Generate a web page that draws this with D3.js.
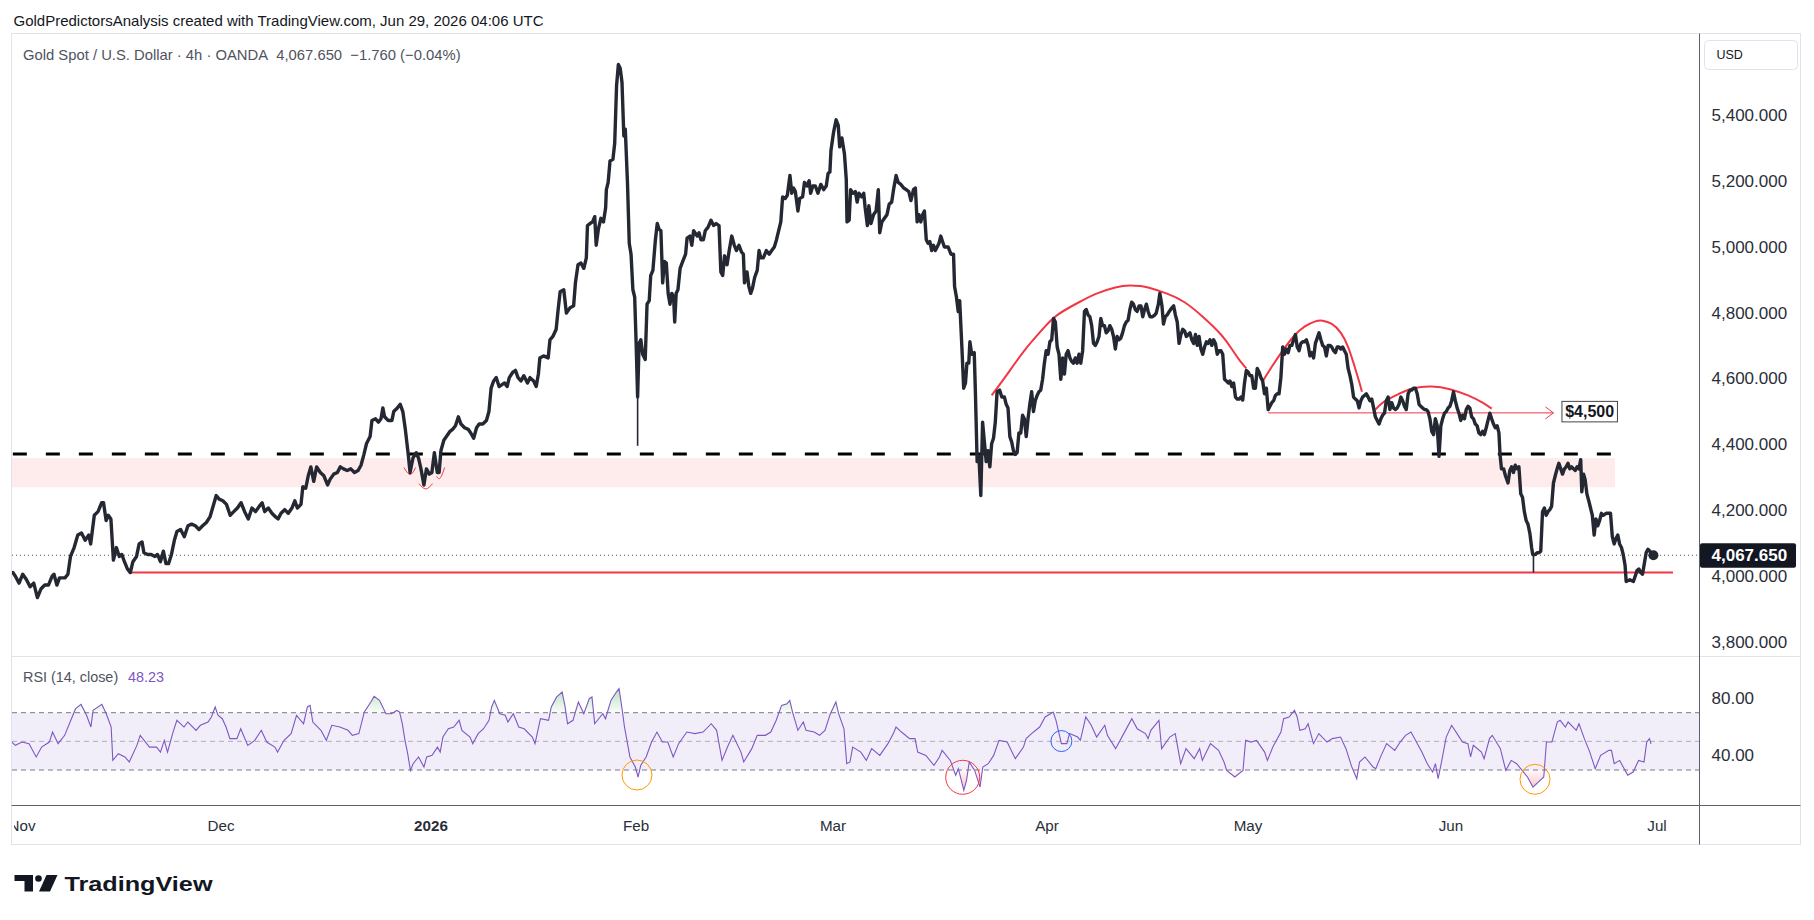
<!DOCTYPE html>
<html><head><meta charset="utf-8">
<script src="https://cdn.jsdelivr.net/npm/d3@7"></script>
<style>
html,body{margin:0;padding:0;background:#fff;}
svg{display:block;}
text{font-family:"Liberation Sans",Arial,sans-serif;}
</style></head><body>
<svg id="c" width="1814" height="920"></svg>
<script>
// ---------------- DATA ----------------
// time values are days since 2025-11-01 (UTC); prices in USD
const priceSeries = [
[-1.38,4015],[-1.00,4004],[-0.44,3983],[0.11,4010],[0.66,3994],[1.22,3972],[1.77,3983],[2.32,3939],[2.88,3966],[3.43,3977],[3.99,3977],[4.54,4004],[4.82,4010],[5.26,3977],[5.65,3999],[6.48,3999],[6.92,4010],[7.31,4064],[7.86,4091],[8.41,4129],[8.97,4135],[9.52,4113],[10.07,4129],[10.35,4102],[10.90,4189],[11.46,4200],[12.01,4227],[12.29,4227],[12.68,4173],[13.01,4189],[13.40,4178],[13.78,4053],[14.23,4091],[14.67,4064],[15.06,4070],[15.44,4048],[15.89,4026],[16.33,4015],[16.72,4048],[17.27,4064],[17.66,4102],[18.10,4108],[18.38,4075],[18.93,4070],[19.48,4070],[20.04,4064],[20.43,4070],[20.87,4048],[21.31,4080],[21.70,4042],[22.09,4042],[22.53,4070],[22.97,4113],[23.36,4140],[23.91,4146],[24.47,4124],[25.02,4157],[25.57,4162],[26.13,4157],[26.68,4146],[27.23,4157],[27.79,4167],[28.34,4184],[28.89,4222],[29.28,4249],[29.72,4238],
[30.27,4233],[30.81,4222],[31.35,4189],[31.88,4200],[32.42,4211],[32.96,4227],[33.49,4200],[34.03,4178],[34.57,4211],[35.10,4200],[35.64,4216],[36.07,4227],[36.45,4200],[36.98,4211],[37.52,4195],[38.06,4184],[38.43,4178],[38.86,4195],[39.40,4206],[39.93,4195],[40.47,4211],[40.90,4233],[41.27,4211],[41.81,4222],[42.08,4276],[42.51,4271],[42.88,4309],[43.26,4336],[43.69,4292],[44.12,4336],[44.66,4319],[45.19,4309],[45.73,4281],[46.10,4298],[46.64,4314],[47.18,4319],[47.61,4336],[48.09,4330],[48.63,4325],[49.16,4330],[49.70,4319],[50.24,4325],[50.67,4341],[51.10,4374],[51.47,4406],[52.01,4428],[52.28,4477],[52.81,4482],[53.24,4472],[53.62,4482],[53.89,4515],[54.15,4488],[54.69,4477],[55.23,4477],[55.50,4504],[56.03,4515],[56.46,4526],[56.84,4504],[57.21,4450],[57.64,4374],[57.91,4319],[58.34,4363],[58.82,4379],[59.15,4363],[59.52,4330],[59.95,4281],[60.33,4330],[60.75,4314],
[61.13,4319],[61.51,4379],[61.95,4319],[62.23,4319],[62.50,4385],[62.94,4417],[63.33,4428],[63.88,4444],[64.26,4450],[64.70,4461],[65.14,4488],[65.53,4466],[66.08,4455],[66.63,4450],[67.01,4439],[67.45,4423],[67.89,4455],[68.28,4466],[68.83,4466],[69.38,4477],[69.76,4504],[70.09,4575],[70.47,4597],[70.86,4607],[71.30,4580],[71.74,4586],[72.12,4591],[72.51,4580],[72.84,4607],[73.39,4624],[73.77,4629],[74.16,4607],[74.60,4597],[75.04,4613],[75.59,4591],[75.97,4607],[76.52,4597],[76.91,4580],[77.24,4618],[77.46,4667],[78.01,4673],[78.72,4667],[78.99,4722],[79.43,4732],[79.93,4754],[80.20,4809],[80.53,4868],[81.08,4874],[81.47,4803],[82.02,4819],[82.57,4825],[82.84,4895],[83.23,4950],[83.67,4955],
[84.11,4939],[84.49,4971],[84.66,5069],[85.04,5075],[85.43,5080],[85.76,5096],[85.98,5009],[86.31,5058],[86.69,5091],[87.08,5080],[87.41,5123],[87.52,5178],[87.79,5200],[88.07,5265],[88.51,5270],[88.78,5319],[89.06,5493],[89.33,5558],[89.61,5547],[89.88,5504],[90.16,5341],[90.38,5362],[90.71,5200],[90.98,5015],[91.25,4982],[91.53,4874],[91.80,4852],
[92.02,4711],[92.23,4548],[92.44,4711],[92.69,4722],[92.95,4678],[93.31,4662],[93.57,4830],[93.88,4841],[94.09,4917],[94.40,4933],[94.76,5026],[95.02,5075],[95.28,5058],[95.54,5053],[95.79,4895],[96.05,4960],[96.31,4955],[96.57,4863],[96.83,4830],[97.09,4863],[97.34,4852],[97.50,4776],[97.71,4863],[97.96,4874],[98.27,4939],[98.64,4960],[99.05,4982],[99.26,5031],[99.67,5037],[99.93,5009],[100.19,5053],[100.70,5037],[100.96,5047],[101.22,5026],[101.58,5026],[101.84,5053],[102.25,5064],[102.66,5085],[103.03,5069],[103.39,5075],[103.80,5069],[104.06,4928],[104.32,4917],[104.58,4977],[104.94,4950],[105.25,4993],[105.61,5037],[105.97,5009],[106.28,4993],[106.64,5009],[107.00,4988],[107.26,4982],[107.42,4895],[107.78,4928],[108.04,4884],[108.30,4863],[108.56,4879],[108.87,4912],[109.23,4933],[109.49,4993],[109.74,4971],[110.10,4971],[110.52,4993],[110.93,4982],[111.29,4993],[111.66,5004],[111.97,5026],[112.33,5058],[112.58,5080],[112.84,5156],[113.20,5151],[113.51,5161],[113.88,5221],[114.14,5167],[114.39,5183],[114.65,5172],[115.01,5113],[115.27,5151],[115.68,5156],[115.94,5200],[116.30,5189],[116.61,5205],[116.82,5167],[117.13,5189],[117.49,5189],[117.86,5167],[118.27,5194],[118.68,5178],[119.04,5189],[119.30,5227],[119.56,5232],[119.71,5297],
[120.08,5352],[120.45,5390],[120.76,5373],[120.97,5308],[121.29,5335],[121.66,5286],[121.92,5210],[122.03,5080],[122.34,5085],[122.55,5178],[122.87,5167],[123.24,5172],[123.50,5140],[123.76,5167],[124.13,5156],[124.45,5167],[124.66,5123],[124.98,5069],[125.19,5129],[125.50,5075],[125.87,5102],[126.24,5113],[126.56,5178],[126.77,5047],[127.08,5080],[127.45,5091],[127.82,5102],[128.14,5134],[128.50,5140],[128.77,5178],[129.14,5221],[129.45,5200],[129.82,5194],[130.24,5183],[130.61,5178],[130.98,5172],[131.29,5145],[131.66,5178],[131.93,5183],[132.19,5080],[132.45,5102],[132.72,5080],[132.98,5102],[133.24,5113],[133.51,5026],[133.77,5015],[134.03,5020],[134.30,4993],[134.56,5009],[134.82,4993],[135.09,5004],[135.35,5015],[135.61,5037],[135.88,5020],[136.14,5004],[136.67,5004],[137.09,4982],[137.46,4982],[137.61,4884],[137.88,4852],[138.14,4808],[138.35,4841],[138.67,4700],[138.93,4575],[139.19,4591],[139.40,4651],[139.67,4651],[139.83,4716],[140.09,4678],[140.46,4683],[140.62,4569],[140.88,4352],[141.14,4368],[141.41,4249],[141.67,4472],[141.93,4412],[142.19,4352],[142.46,4385],[142.72,4336],[142.98,4406],[143.25,4423],[143.51,4472],[143.77,4564],[144.14,4569],[144.46,4548],[144.83,4548],[145.09,4526],[145.35,4515],[145.62,4428],[145.88,4412],[146.14,4385],[146.41,4374],[146.67,4379],[146.93,4439],[147.20,4439],[147.46,4493],[147.72,4482],[147.99,4428],[148.25,4482],[148.51,4526],[148.78,4564],[149.04,4504],[149.30,4537],[149.57,4553],[149.83,4564],[150.09,4569],[150.36,4602],[150.62,4651],[150.88,4689],
[151.16,4678],[151.43,4716],[151.70,4722],[151.97,4787],[152.25,4776],[152.52,4700],[152.79,4678],[153.06,4602],[153.33,4667],[153.60,4618],[153.87,4678],[154.14,4689],[154.42,4667],[154.69,4656],[154.96,4651],[155.23,4667],[155.50,4651],[155.77,4678],[156.04,4651],[156.32,4689],[156.59,4808],[156.86,4814],[157.13,4797],[157.40,4792],[157.67,4765],[157.94,4711],[158.21,4705],[158.49,4716],[158.76,4732],[159.03,4787],[159.30,4765],[159.57,4765],[159.84,4743],[160.11,4749],[160.38,4765],[160.66,4754],[160.93,4732],[161.20,4694],[161.47,4732],[161.74,4722],[162.01,4727],[162.28,4743],[162.56,4765],[162.83,4776],[163.10,4781],[163.37,4814],[163.64,4836],[163.91,4830],[164.18,4814],[164.45,4808],
[164.75,4825],[165.02,4825],[165.29,4792],[165.56,4814],[165.83,4830],[166.10,4808],[166.37,4792],[166.75,4792],[167.08,4797],[167.30,4803],[167.62,4830],[167.84,4863],[168.16,4825],[168.38,4770],[168.65,4792],[168.92,4797],[169.25,4808],[169.63,4819],[169.90,4825],[170.17,4797],[170.44,4776],[170.71,4711],[170.99,4738],[171.26,4754],[171.53,4749],[171.80,4732],[172.07,4738],[172.34,4743],[172.61,4722],[172.89,4711],[173.16,4738],[173.43,4705],[173.70,4732],[173.97,4694],[174.24,4678],[174.51,4700],[174.79,4716],[175.06,4711],[175.33,4722],[175.60,4705],[175.87,4722],[176.14,4711],[176.41,4678],[176.68,4689],[176.96,4689],[177.23,4678],[177.50,4602],[177.77,4597],[178.04,4591],[178.31,4597],[178.58,4580],[178.85,4591],[179.13,4548],[179.40,4542],[179.67,4542],[179.94,4548],[180.21,4539],[180.48,4591],[180.75,4629],
[181.02,4624],[181.30,4613],[181.58,4613],[181.86,4575],[182.13,4575],[182.41,4635],[182.69,4624],[182.97,4607],[183.24,4597],[183.52,4558],[183.80,4575],[184.08,4510],[184.35,4520],[184.63,4531],[184.91,4537],[185.19,4553],[185.46,4558],[185.74,4558],[186.02,4607],[186.30,4700],[186.57,4678],[186.85,4694],[187.13,4683],[187.41,4705],[187.69,4705],[187.96,4722],[188.24,4738],[188.52,4700],[188.80,4689],[189.07,4711],[189.35,4716],[189.63,4716],[189.91,4722],[190.18,4705],[190.46,4673],[190.74,4683],[191.02,4667],[191.29,4711],[191.57,4727],[191.85,4743],[192.13,4722],[192.40,4705],[192.68,4700],[192.96,4673],[193.24,4705],[193.51,4705],[193.79,4700],[194.07,4689],[194.35,4683],[194.62,4700],[194.90,4700],[195.18,4694],[195.46,4700],[195.73,4689],[196.01,4678],[196.29,4635],[196.57,4613],[196.85,4586],[197.12,4548],[197.40,4542],[197.68,4537],[197.96,4515],[198.23,4537],[198.51,4548],[198.79,4553],[199.07,4558],[199.34,4548],[199.62,4537],[199.90,4542],[200.18,4515],[200.45,4488],[200.73,4477],[201.01,4466],[201.29,4482],[201.56,4493],[201.84,4499],[202.12,4537],[202.40,4548],[202.67,4510],[202.95,4531],[203.23,4515],[203.51,4510],[203.78,4515],[204.06,4526],[204.34,4548],[204.62,4537],[204.89,4520],[205.17,4510],[205.45,4558],[205.73,4569],[206.00,4569],[206.28,4575],[206.56,4575],[206.84,4558],[207.12,4526],[207.39,4520],[207.67,4515],[207.95,4510],[208.23,4510],[208.50,4504],[208.78,4482],[209.06,4444],[209.34,4434],[209.61,4482],[209.89,4461],[210.17,4368],[210.45,4461],[210.72,4482],[211.00,4499],[211.28,4504],[211.56,4515],[211.83,4520],
[212.10,4537],[212.36,4564],[212.63,4537],[212.89,4515],[213.16,4499],[213.42,4477],[213.69,4493],[213.95,4482],[214.22,4510],[214.48,4520],[214.74,4515],[215.01,4488],[215.27,4482],[215.54,4466],[215.80,4461],[216.07,4439],[216.33,4434],[216.60,4444],[216.86,4434],[217.13,4455],[217.39,4477],[217.66,4499],[217.92,4482],[218.19,4466],[218.45,4455],[218.72,4461],[218.98,4439],[219.14,4374],[219.35,4330],[219.67,4330],[219.93,4309],[220.30,4287],[220.57,4325],[220.83,4336],[221.10,4319],[221.36,4341],[221.63,4330],[221.89,4336],[222.16,4254],[222.42,4243],[222.68,4200],[222.95,4173],[223.21,4162],[223.48,4135],[223.74,4091],[223.90,4070],[224.27,4070],[224.54,4075],[224.80,4075],[225.07,4080],[225.33,4200],[225.60,4211],[225.86,4189],[226.13,4200],[226.39,4206],[226.65,4216],[226.92,4287],[227.18,4309],[227.45,4330],[227.71,4347],[227.98,4330],[228.24,4314],[228.51,4330],[228.77,4336],[229.04,4347],[229.30,4330],[229.57,4336],[229.83,4330],[230.10,4325],[230.36,4336],[230.63,4330],[230.89,4358],[231.05,4260],[231.31,4314],[231.53,4298],[231.79,4254],[232.06,4233],[232.32,4211],[232.58,4189],[232.85,4129],[233.11,4178],[233.38,4157],[233.64,4173],[233.91,4195],[234.17,4189],[234.60,4195],[235.23,4195],[235.49,4124],[235.76,4102],[236.02,4118],[236.29,4129],[236.55,4102],[236.82,4091],[237.08,4070],[237.35,4037],[237.51,3988],[238.04,3993],[238.56,3988],[238.83,4004],[239.09,4021],[239.36,4026],[239.62,4015],[239.89,4010],[240.15,4042],[240.42,4075],[240.68,4086],[240.95,4080],[241.21,4070],[241.48,4067.65]
];

const rsiSeries = [
[-1.83,50.7],[-1.00,47.2],[0.0,49.5],[1.06,48.4],[2.14,39.1],[2.96,46.0],[4.12,49.5],[4.61,56.5],[5.44,48.4],[6.43,54.2],[7.25,63.5],[8.08,72.8],[8.90,75.8],[9.73,68.2],[10.39,60.0],[10.72,71.6],[12.04,75.8],[12.70,69.3],[13.44,60.0],[13.69,36.7],[14.52,41.4],[15.51,39.1],[16.17,35.6],[17.32,47.2],[17.82,54.2],[19.22,46.0],[20.29,46.0],[20.87,42.5],[21.45,50.7],[21.94,42.5],[22.77,56.5],[23.35,64.7],[24.42,60.0],[25.00,63.5],[26.24,57.7],[26.89,61.2],[28.05,63.5],[28.55,67.0],[29.12,74.0],[29.54,68.2],
[30.19,65.8],[30.75,60.0],[31.31,51.9],[32.35,51.9],[32.91,58.8],[33.95,47.2],[34.99,50.7],[35.95,57.7],[36.75,49.5],[37.95,46.0],[38.35,42.5],[39.31,50.7],[40.35,55.4],[41.15,68.2],[42.19,62.3],[42.75,74.0],[43.15,75.1],[43.55,63.5],[44.75,57.7],[45.55,50.7],[46.35,61.2],[47.55,60.0],[48.75,57.7],[49.39,54.2],[50.35,55.4],[51.16,70.5],[52.12,77.5],[52.60,81.4],[53.40,78.6],[54.35,69.3],[55.16,69.3],[55.96,71.6],[56.36,70.5],[56.76,62.3],[57.16,50.7],[57.56,41.4],[57.96,29.7],[58.36,34.4],[59.16,39.1],[59.96,32.1],[60.36,39.1],
[61.16,40.2],[61.98,46.0],[62.39,42.5],[62.80,53.0],[63.62,58.8],[64.44,60.0],[65.26,64.7],[65.67,57.7],[66.90,53.0],[67.31,48.4],[68.13,55.4],[68.95,58.8],[69.77,64.7],[70.17,74.0],[70.58,78.6],[71.40,69.3],[72.22,68.2],[72.63,63.5],[73.45,69.3],[74.27,60.0],[75.09,58.8],[76.32,53.0],[76.73,48.4],[77.55,65.8],[78.78,64.7],[79.19,74.0],[80.01,81.0],[80.83,84.4],[81.24,75.1],[81.65,62.3],[82.47,64.7],[83.29,77.5],[84.11,69.3],[84.93,79.8],[85.34,81.0],[85.75,62.3],[86.98,69.3],[87.39,65.8],[88.21,78.6],[89.03,84.4],[89.44,86.8],[89.85,74.0],[90.26,60.0],[91.08,39.1],[91.90,32.1],
[92.29,25.1],[92.67,33.2],[93.44,39.1],[94.21,49.5],[94.98,56.5],[95.75,49.5],[96.52,49.5],[97.29,39.1],[98.06,48.4],[99.22,56.5],[100.37,55.4],[101.53,56.5],[102.69,62.3],[103.46,57.7],[104.23,36.7],[105.00,46.0],[105.77,54.2],[106.92,42.5],[107.31,35.6],[108.46,44.9],[109.23,54.2],[110.39,54.2],[111.16,56.5],[111.93,64.7],[112.70,75.1],[113.47,76.3],[113.86,78.6],[114.24,70.5],[115.01,57.7],[115.78,63.5],[116.17,57.7],[117.32,56.5],[118.09,54.2],[118.86,57.7],[119.63,69.3],
[120.42,77.5],[120.81,69.3],[121.59,58.8],[121.99,34.4],[122.46,35.6],[122.85,46.0],[124.03,42.5],[124.82,36.7],[125.60,44.9],[126.78,40.2],[127.96,48.4],[128.74,55.4],[129.13,60.0],[129.92,56.5],[131.10,51.9],[131.88,51.9],[132.27,42.5],[133.45,40.2],[134.63,33.2],[135.42,39.1],[135.81,43.7],[136.99,36.7],[137.77,26.3],[138.16,30.9],[138.95,15.8],[139.34,22.8],[139.73,35.6],[140.52,29.7],[141.30,18.1],[141.70,32.1],[142.48,34.4],[143.27,40.2],[144.05,50.7],[145.23,49.5],[146.41,37.9],[147.59,46.0],[147.98,51.9],[148.76,55.4],[149.94,60.0],[150.73,67.0],
[151.53,69.3],[151.93,70.5],[152.34,64.7],[153.15,48.4],[153.96,48.4],[154.36,55.4],[155.58,53.0],[155.98,50.7],[156.79,67.0],[157.60,61.2],[158.41,53.0],[159.62,61.2],[160.02,54.2],[161.24,44.9],[162.45,55.4],[163.66,65.8],[164.47,58.8],[165.69,55.4],[166.09,51.9],[166.50,57.7],[167.71,64.7],[168.11,44.9],[169.33,53.0],[170.14,55.4],[170.95,34.4],[171.75,44.9],[172.97,37.9],[173.78,44.9],[174.18,36.7],[175.39,48.4],[176.61,43.7],[177.42,35.6],[177.82,29.7],[179.03,25.1],[180.25,29.7],[180.65,50.7],
[181.47,49.5],[182.30,50.7],[183.54,42.5],[183.96,36.7],[184.79,46.0],[186.03,56.5],[186.44,65.8],[187.27,67.0],[188.10,71.6],[188.51,67.0],[188.92,57.7],[189.75,58.8],[190.17,62.3],[191.00,48.4],[191.82,55.4],[193.06,49.5],[193.89,51.9],[195.13,53.0],[195.96,44.9],[196.79,32.9],[197.61,23.9],[198.03,35.6],[198.86,39.1],[200.10,32.1],[200.51,30.9],[201.34,40.2],[202.17,48.4],[203.41,43.7],[204.24,49.5],[205.06,54.2],[205.89,56.5],[206.72,49.5],[207.55,42.5],[208.38,34.4],[209.20,28.6],[209.62,34.4],[210.03,23.9],[210.45,33.2],[211.27,53.0],
[212.09,61.2],[212.88,55.4],[213.67,49.5],[214.46,48.4],[214.85,39.1],[215.25,47.2],[216.43,42.5],[216.82,37.9],[217.61,51.9],[218.01,54.2],[219.19,44.9],[219.98,29.7],[220.77,36.7],[221.56,34.4],[222.35,29.7],[223.14,25.1],[223.93,18.1],[224.72,21.5],[225.51,25.1],[225.90,49.5],[226.69,49.5],[227.48,63.5],[227.88,64.7],[228.66,60.0],[229.06,63.5],[230.24,57.7],[230.64,62.3],[231.42,51.9],[232.21,42.5],[233.00,30.9],[233.79,40.2],[234.98,43.7],[235.37,43.7],[235.77,34.4],[236.56,36.7],[237.74,26.3],[238.53,28.6],[239.32,36.7],[240.11,35.6],[240.50,49.5],[240.90,51.9],[241.13,48.23]
];

const monthTicks  = ["2025-11-01","2025-12-01","2026-01-01","2026-02-01","2026-03-01","2026-04-01","2026-05-01","2026-06-01","2026-07-01"];
const monthLabels = ["Nov","Dec","2026","Feb","Mar","Apr","May","Jun","Jul"];
const priceTicks  = [3800,4000,4200,4400,4600,4800,5000,5200,5400];
const rsiTicks    = [40,80];
const rsiLevels   = [70,50,30];

const lastClose = 4067.650, lastChange = -1.760, lastChangePct = -0.04, lastRsi = 48.23;

// drawings (in data space: day offset / price)
const supportLevel = 4015, supportDays = [16.29, 244.33];
const resistLevel = 4375, resistDays = [-1.38, 235.4];
const zoneLevels = [4274, 4363], zoneDays = [-3, 235.88];
const targetLevel = 4500, targetDays = [184.08, 226.92], targetLabel = "$4,500";
const arcA = [[142.98,4553],[145.09,4613],[147.72,4689],[150.36,4754],[152.52,4797],[155.77,4836],[158.49,4863],[161.20,4881],[163.37,4887],[165.02,4885],[166.10,4881],[168.82,4863],[171.53,4836],[174.24,4792],[176.96,4738],[178.58,4694],[179.67,4662],[180.75,4635]];
const arcB = [[183.24,4596],[184.63,4640],[186.30,4689],[187.96,4732],[189.63,4762],[191.29,4778],[192.40,4780],[193.79,4770],[195.18,4743],[196.29,4700],[197.12,4651],[197.96,4596],[198.40,4564]];
const arcC = [[200.45,4510],[201.84,4535],[204.06,4558],[206.28,4575],[209.06,4580],[211.83,4572],[214.48,4553],[216.60,4531],[217.92,4513]];
const smiles = [
  [[57.0,4334],[57.92,4313],[58.72,4334]],
  [[59.24,4285],[60.22,4269],[61.24,4285]],
  [[61.85,4307],[62.39,4302],[63.06,4334]]
];
const spikes = [[92.23,4548,4400],[224.01,4070,4015]];
const rsiMarks = [[92.14,26.5],[138.79,24.9],[153.15,50.2],[224.23,23.5]];

// ---------------- LAYOUT / STYLE ----------------
const W = 1814, H = 920;
const L = 12, R = 1699.5, frameR = 1800.5;
const pTop = 33.5, pBot = 656.5, rBot = 805.5, fBot = 844.5;
const markStyle = [{c:"#ff9800",r:15},{c:"#f23645",r:17},{c:"#2962ff",r:10.5},{c:"#ff9800",r:15}];
const RED = "#f23645", INK = "#131722", LINE = "#242833";

const BASE = Date.UTC(2025,10,1), DAY = 864e5;
const toDate = t => new Date(BASE + t*DAY);

const x = d3.scaleUtc()
  .domain(monthTicks.map(s => new Date(s + "T00:00:00Z")))
  .range([22,221,431,636,833,1047,1248,1451,1657]);
const yP = d3.scaleLinear().domain([4000,4400]).range([577.5,445.8]);
const yR = d3.scaleLinear().domain([30,70]).range([770,712.7]);

const svg = d3.select("#c");
const defs = svg.append("defs");
defs.append("clipPath").attr("id","cp").append("rect").attr("x",L).attr("y",pTop).attr("width",R-L).attr("height",pBot-pTop);
defs.append("clipPath").attr("id","cr").append("rect").attr("x",L).attr("y",pBot).attr("width",R-L).attr("height",rBot-pBot);
defs.append("clipPath").attr("id","ct").append("rect").attr("x",L+2).attr("y",rBot).attr("width",R-L-2).attr("height",fBot-rBot);

const gOB = defs.append("linearGradient").attr("id","gob").attr("gradientUnits","userSpaceOnUse")
  .attr("x1",0).attr("x2",0).attr("y1",yR(90)).attr("y2",yR(70));
gOB.append("stop").attr("offset","0").attr("stop-color","rgba(76,175,80,0.45)");
gOB.append("stop").attr("offset","1").attr("stop-color","rgba(76,175,80,0.03)");
const gOS = defs.append("linearGradient").attr("id","gos").attr("gradientUnits","userSpaceOnUse")
  .attr("x1",0).attr("x2",0).attr("y1",yR(30)).attr("y2",yR(12));
gOS.append("stop").attr("offset","0").attr("stop-color","rgba(242,54,69,0.03)");
gOS.append("stop").attr("offset","1").attr("stop-color","rgba(242,54,69,0.4)");

// background
svg.append("rect").attr("width",W).attr("height",H).attr("fill","#fff");

// header
svg.append("text").attr("x",13.5).attr("y",20).attr("dominant-baseline","central")
  .attr("font-size",15).attr("fill",INK)
  .text("GoldPredictorsAnalysis created with TradingView.com, Jun 29, 2026 04:06 UTC");

// frame
svg.append("rect").attr("x",11.5).attr("y",pTop).attr("width",frameR-11.5).attr("height",fBot-pTop)
  .attr("fill","none").attr("stroke","#e0e3eb").attr("stroke-width",1);

// ---------- price pane ----------
const gp = svg.append("g").attr("clip-path","url(#cp)");
const fmtMinus = s => s.replace("-","\u2212");

gp.append("rect").attr("x",x(toDate(zoneDays[0]))).attr("width",x(toDate(zoneDays[1]))-x(toDate(zoneDays[0])))
  .attr("y",yP(zoneLevels[1])).attr("height",yP(zoneLevels[0])-yP(zoneLevels[1]))
  .attr("fill","rgba(242,54,69,0.1)");

gp.append("line").attr("x1",x(toDate(resistDays[0]))).attr("x2",x(toDate(resistDays[1])))
  .attr("y1",yP(resistLevel)).attr("y2",yP(resistLevel))
  .attr("stroke","#000").attr("stroke-width",3).attr("stroke-dasharray","14,19");

gp.append("line").attr("x1",x(toDate(supportDays[0]))).attr("x2",x(toDate(supportDays[1])))
  .attr("y1",yP(supportLevel)).attr("y2",yP(supportLevel))
  .attr("stroke",RED).attr("stroke-width",2);

// current price dotted line
gp.append("line").attr("x1",L).attr("x2",R).attr("y1",yP(lastClose)).attr("y2",yP(lastClose))
  .attr("stroke","#555").attr("stroke-width",1).attr("stroke-dasharray","1,3");

// target line with arrow
const tx0 = x(toDate(targetDays[0])), tx1 = x(toDate(targetDays[1])), ty = yP(targetLevel);
gp.append("line").attr("x1",tx0).attr("x2",tx1).attr("y1",ty).attr("y2",ty).attr("stroke",RED).attr("stroke-width",1);
gp.append("path").attr("d",`M${tx1-8},${ty-6}L${tx1},${ty}L${tx1-8},${ty+6}`).attr("fill","none").attr("stroke",RED).attr("stroke-width",1);

// arcs
const curveLine = d3.line().x(d=>x(toDate(d[0]))).y(d=>yP(d[1])).curve(d3.curveNatural);
[arcA,arcB,arcC].forEach(a => gp.append("path").attr("d",curveLine(a)).attr("fill","none").attr("stroke",RED).attr("stroke-width",2));
smiles.forEach(a => gp.append("path").attr("d",curveLine(a)).attr("fill","none").attr("stroke",RED).attr("stroke-width",1));

// spikes
spikes.forEach(s => gp.append("line").attr("x1",x(toDate(s[0]))).attr("x2",x(toDate(s[0])))
  .attr("y1",yP(s[1])).attr("y2",yP(s[2])).attr("stroke",LINE).attr("stroke-width",1.6));

// price line
const priceLine = d3.line().x(d=>x(toDate(d[0]))).y(d=>yP(d[1]));
gp.append("path").attr("d",priceLine(priceSeries)).attr("fill","none").attr("stroke",LINE)
  .attr("stroke-width",3.4).attr("stroke-linejoin","round").attr("stroke-linecap","round");
const last = priceSeries[priceSeries.length-1];
gp.append("circle").attr("cx",x(toDate(last[0]))).attr("cy",yP(last[1])).attr("r",5).attr("fill",LINE);

// target label
const lb = svg.append("g");
lb.append("rect").attr("x",tx1+8.5).attr("y",ty-11.5).attr("width",55.5).attr("height",20.5)
  .attr("fill","#fff").attr("stroke","#444").attr("stroke-width",1);
lb.append("text").attr("x",tx1+8.5+27.75).attr("y",ty-1).attr("text-anchor","middle").attr("dominant-baseline","central")
  .attr("font-size",16).attr("font-weight","bold").attr("fill",INK).text(targetLabel);

// legend
const fmt3 = d3.format(",.3f");
svg.append("text").attr("x",23).attr("y",54.5).attr("dominant-baseline","central").attr("font-size",14.8).attr("fill","#50535e")
  .text(`Gold Spot / U.S. Dollar \u00b7 4h \u00b7 OANDA\u00a0\u00a0${fmt3(lastClose)}\u00a0\u00a0${fmtMinus(d3.format(".3f")(lastChange))} (${fmtMinus(d3.format(".2f")(lastChangePct))}%)`);

// ---------- RSI pane ----------
const gr = svg.append("g").attr("clip-path","url(#cr)");
gr.append("rect").attr("x",L).attr("width",R-L).attr("y",yR(70)).attr("height",yR(30)-yR(70)).attr("fill","rgba(126,87,194,0.1)");
rsiLevels.forEach(v => gr.append("line").attr("x1",L).attr("x2",R).attr("y1",yR(v)).attr("y2",yR(v))
  .attr("stroke", v===50 ? "rgba(120,123,134,0.55)" : "#787b86").attr("stroke-width",1).attr("stroke-dasharray","5,4"));
const areaOB = d3.area().x(d=>x(toDate(d[0]))).y0(yR(70)).y1(d=>yR(Math.max(d[1],70)));
const areaOS = d3.area().x(d=>x(toDate(d[0]))).y0(yR(30)).y1(d=>yR(Math.min(d[1],30)));
gr.append("path").attr("d",areaOB(rsiSeries)).attr("fill","url(#gob)");
gr.append("path").attr("d",areaOS(rsiSeries)).attr("fill","url(#gos)");
const rsiLine = d3.line().x(d=>x(toDate(d[0]))).y(d=>yR(d[1]));
gr.append("path").attr("d",rsiLine(rsiSeries)).attr("fill","none").attr("stroke","#7e57c2").attr("stroke-width",1.1);
rsiMarks.forEach((m,i) => gr.append("circle").attr("cx",x(toDate(m[0]))).attr("cy",yR(m[1])).attr("r",markStyle[i].r)
  .attr("fill","none").attr("stroke",markStyle[i].c).attr("stroke-width",1));

svg.append("text").attr("x",23).attr("y",676.5).attr("dominant-baseline","central").attr("font-size",14.4).attr("fill","#50535e")
  .text("RSI (14, close)");
svg.append("text").attr("x",128).attr("y",676.5).attr("dominant-baseline","central").attr("font-size",14.4).attr("fill","#7e57c2")
  .text(d3.format(".2f")(lastRsi));

// ---------- separators ----------
svg.append("line").attr("x1",11.5).attr("x2",frameR).attr("y1",pBot).attr("y2",pBot).attr("stroke","#e0e3eb");
svg.append("line").attr("x1",11.5).attr("x2",frameR).attr("y1",rBot).attr("y2",rBot).attr("stroke","#5d606b");
svg.append("line").attr("x1",R).attr("x2",R).attr("y1",pTop).attr("y2",fBot).attr("stroke","#5d606b");

// ---------- price axis ----------
const ga = svg.append("g");
ga.selectAll("text.pt").data(priceTicks).join("text").attr("class","pt")
  .attr("x",1711.5).attr("y",d=>yP(d)-1).attr("dominant-baseline","central")
  .attr("font-size",17).attr("fill","#2a2e39").text(d=>fmt3(d));
ga.selectAll("text.rt").data(rsiTicks).join("text").attr("class","rt")
  .attr("x",1711.5).attr("y",d=>yR(d)).attr("dominant-baseline","central")
  .attr("font-size",17).attr("fill","#2a2e39").text(d=>d3.format(".2f")(d));
// last price label
ga.append("rect").attr("x",1700).attr("y",yP(lastClose)-12).attr("width",96).attr("height",24.5).attr("rx",2).attr("fill",INK);
ga.append("text").attr("x",1711.5).attr("y",yP(lastClose)).attr("dominant-baseline","central")
  .attr("font-size",17).attr("font-weight","bold").attr("fill","#fff").text(fmt3(lastClose));
// USD box
ga.append("rect").attr("x",1704.5).attr("y",40.5).attr("width",93).attr("height",29).attr("rx",4).attr("fill","#fff").attr("stroke","#e0e3eb");
ga.append("text").attr("x",1716.5).attr("y",55).attr("dominant-baseline","central").attr("font-size",12.5).attr("fill",INK).text("USD");

// ---------- time axis ----------
const gt = svg.append("g").attr("clip-path","url(#ct)");
gt.selectAll("text").data(monthTicks).join("text")
  .attr("x",d=>x(new Date(d+"T00:00:00Z"))).attr("y",825).attr("text-anchor","middle").attr("dominant-baseline","central")
  .attr("font-size",15.2).attr("fill","#2a2e39").attr("font-weight",(d,i)=>monthLabels[i]==="2026"?"bold":"normal")
  .text((d,i)=>monthLabels[i]);

// ---------- TradingView logo ----------
const lg = svg.append("g").attr("fill",INK);
lg.append("path").attr("d","M14.5,875H33V891.5H24.5V881H14.5Z");
lg.append("circle").attr("cx",38.5).attr("cy",878.5).attr("r",3.3);
lg.append("path").attr("d","M46.5,875H57.5L50,891.5H39Z");
lg.append("text").attr("x",64.5).attr("y",883.5).attr("dominant-baseline","central").attr("font-size",21)
  .attr("font-weight","bold").attr("textLength",148).attr("lengthAdjust","spacingAndGlyphs").text("TradingView");
</script>
</body></html>
